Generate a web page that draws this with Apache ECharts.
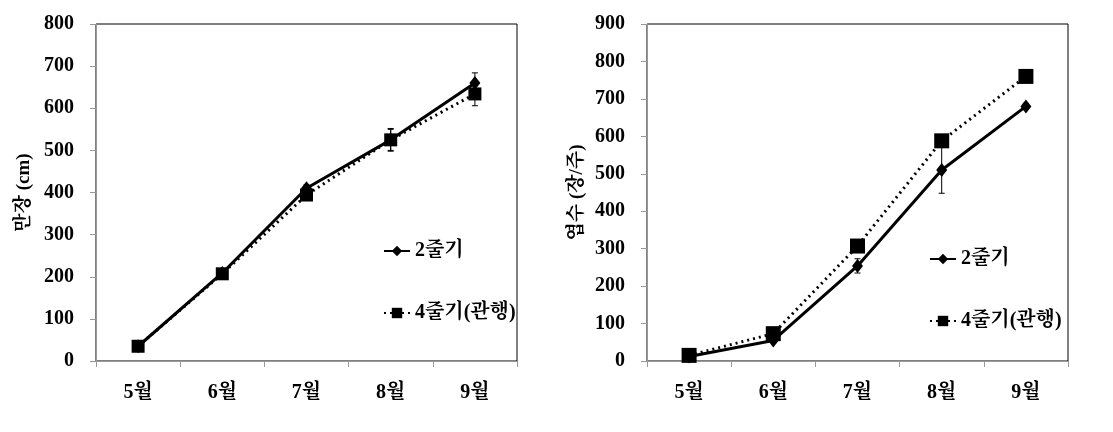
<!DOCTYPE html>
<html><head><meta charset="utf-8">
<script src="https://cdn.jsdelivr.net/npm/echarts@6/dist/echarts.min.js"></script>
<style>html,body{margin:0;padding:0;background:#fff}#c{width:1113px;height:432px}</style>
</head><body><div id="c"></div>
<script>
const months = ['5월', '6월', '7월', '8월', '9월'];
const seriesNames = ['2줄기', '4줄기(관행)'];
// Left chart: 만장 (cm)
const vine2 = [35, 209, 410, 525, 660];
const vine4 = [35, 207, 394, 525, 634];
const vine2Err = [3, 10, 8, 27, 24];
const vine4Err = [3, 8, 12, 25, 28];
// Right chart: 엽수 (장/주)
const leaf2 = [12, 55, 254, 510, 680];
const leaf4 = [15, 73, 307, 588, 760];
const leaf2Err = [2, 5, 19, 62, 8];
const leaf4Err = [2, 5, 8, 10, 8];

const F = '"Liberation Serif","Noto Serif CJK KR","Noto Sans CJK KR",serif';
const chart = echarts.init(document.getElementById('c'));

function errSeries(vals, errs, gi) {
  return {
    type: 'custom', xAxisIndex: gi, yAxisIndex: gi, z: 1, silent: true,
    data: vals.map((v, i) => [i, v, errs[i]]),
    encode: { x: 0, y: 1 },
    renderItem: function (params, api) {
      const x = api.value(0), v = api.value(1), e = api.value(2);
      const hi = api.coord([x, v + e]), lo = api.coord([x, v - e]);
      const s = { stroke: '#000', lineWidth: 1 };
      return { type: 'group', children: [
        { type: 'line', shape: { x1: hi[0], y1: hi[1], x2: lo[0], y2: lo[1] }, style: s },
        { type: 'line', shape: { x1: hi[0] - 3, y1: hi[1], x2: hi[0] + 3, y2: hi[1] }, style: s },
        { type: 'line', shape: { x1: lo[0] - 3, y1: lo[1], x2: lo[0] + 3, y2: lo[1] }, style: s }
      ]};
    }
  };
}
function lineSeries(name, vals, gi, dotted, big) {
  return {
    name: name, type: 'line', xAxisIndex: gi, yAxisIndex: gi, z: 3,
    data: vals,
    symbol: dotted ? 'rect' : 'diamond',
    symbolSize: dotted ? (big ? 15 : 13) : [11, 14],
    itemStyle: { color: '#000' },
    lineStyle: { color: '#000', width: dotted ? 3 : 3, type: dotted ? [2, 4] : 'solid' }
  };
}
function xAx(gi) {
  return {
    type: 'category', gridIndex: gi, data: months, boundaryGap: true,
    axisLine: { lineStyle: { color: '#999', width: 1 } },
    axisTick: { show: true, length: 6, lineStyle: { color: '#999' } },
    axisLabel: { margin: 22, fontFamily: F, fontWeight: 'bold', fontSize: 20, color: '#000' },
    splitLine: { show: false }
  };
}
function yAx(gi, max, name, gap) {
  return {
    type: 'value', gridIndex: gi, min: 0, max: max, interval: 100,
    name: name, nameLocation: 'middle', nameGap: gap, nameRotate: 90,
    nameTextStyle: { fontFamily: F, fontWeight: 'bold', fontSize: 19, color: '#000' },
    axisLine: { show: true, lineStyle: { color: '#999', width: 1 } },
    axisTick: { show: true, length: 6, lineStyle: { color: '#999' } },
    axisLabel: { margin: 22, fontFamily: F, fontWeight: 'bold', fontSize: 20, color: '#000' },
    splitLine: { show: false }
  };
}
function legend(left, top) {
  return {
    data: seriesNames, orient: 'vertical', left: left, top: top, itemGap: 42,
    itemWidth: 26, itemHeight: 13, selectedMode: false,
    textStyle: { fontFamily: F, fontWeight: 'bold', fontSize: 20, color: '#000' }
  };
}

chart.setOption({
  animation: false,
  backgroundColor: '#fff',
  grid: [
    { left: 96, top: 24, width: 421, height: 337, show: true, borderColor: '#000', borderWidth: 1 },
    { left: 647, top: 24, width: 421, height: 337, show: true, borderColor: '#000', borderWidth: 1 }
  ],
  xAxis: [xAx(0), xAx(1)],
  yAxis: [yAx(0, 800, '만장 (cm)', 62), yAx(1, 900, '엽수 (장/주)', 60)],
  legend: [legend(378, 236), legend(924, 244)],
  series: [
    errSeries(vine2, vine2Err, 0), errSeries(vine4, vine4Err, 0),
    errSeries(leaf2, leaf2Err, 1), errSeries(leaf4, leaf4Err, 1),
    lineSeries(seriesNames[0], vine2, 0, false, false),
    lineSeries(seriesNames[1], vine4, 0, true, false),
    lineSeries(seriesNames[0], leaf2, 1, false, true),
    lineSeries(seriesNames[1], leaf4, 1, true, true)
  ]
});
</script></body></html>
